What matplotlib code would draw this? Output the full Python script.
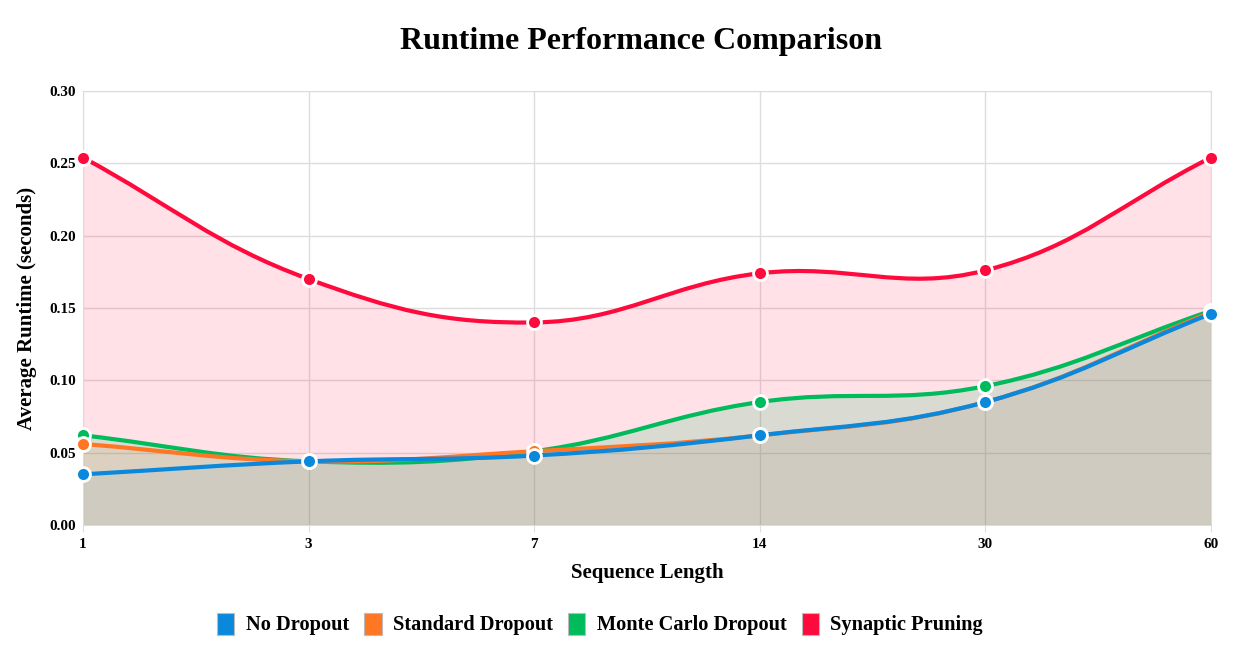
import numpy as np
import matplotlib
matplotlib.use("Agg")
import matplotlib.pyplot as plt
from matplotlib.path import Path
from matplotlib.patches import PathPatch, FancyBboxPatch

plt.rcParams.update({
    "font.family": ["Liberation Serif", "DejaVu Serif"],
    "font.weight": "bold",
})

# ------------------------------------------------------------
# Data
# ------------------------------------------------------------
seq_labels = ["1", "3", "7", "14", "30", "60"]

no_dropout = [0.035, 0.044, 0.048, 0.062, 0.085, 0.146]
standard_dropout = [0.056, 0.044, 0.051, 0.062, 0.085, 0.147]
monte_carlo = [0.062, 0.044, 0.051, 0.085, 0.096, 0.148]
synaptic = [0.254, 0.170, 0.140, 0.174, 0.176, 0.254]

series_names = ["No Dropout", "Standard Dropout", "Monte Carlo Dropout", "Synaptic Pruning"]
series_values = [no_dropout, standard_dropout, monte_carlo, synaptic]
colors = ["#0a88dc", "#ff7722", "#00bb5c", "#ff0a3c"]
fill_alpha = [0.06, 0.10, 0.15, 0.12]

W, H = 1240, 650
fig = plt.figure(figsize=(W / 100, H / 100), dpi=100)
ax = fig.add_axes([83 / W, 1 - 525 / H, (1211 - 83) / W, (525 - 91) / H])

xs = np.arange(len(seq_labels))
ax.set_xlim(0, len(seq_labels) - 1)
ax.set_ylim(0, 0.30)


def spline_path(x, y, tension=0.4):
    """Chart.js style bezier through points, computed in pixel space."""
    pts = ax.transData.transform(np.column_stack([x, y]))
    n = len(pts)
    verts, codes = [pts[0]], [Path.MOVETO]
    cps = []
    for i in range(n):
        prev = pts[max(i - 1, 0)]
        cur = pts[i]
        nxt = pts[min(i + 1, n - 1)]
        d01 = np.hypot(*(cur - prev))
        d12 = np.hypot(*(nxt - cur))
        tot = d01 + d12
        s01 = d01 / tot if tot else 0
        s12 = d12 / tot if tot else 0
        cp1 = cur - tension * s01 * (nxt - prev)
        cp2 = cur + tension * s12 * (nxt - prev)
        cps.append((cp1, cp2))
    for i in range(1, n):
        verts += [cps[i - 1][1], cps[i][0], pts[i]]
        codes += [Path.CURVE4] * 3
    inv = ax.transData.inverted()
    return inv.transform(np.array(verts)), codes


# first dataset ends up on top, so draw in reverse
n_series = len(series_values)
for k in range(n_series - 1, -1, -1):
    vals, col = series_values[k], colors[k]
    z = 1 + 3 * (n_series - k)
    v, c = spline_path(xs, vals)
    fv = np.vstack([v, [[xs[-1], 0], [xs[0], 0], v[0]]])
    fc = c + [Path.LINETO, Path.LINETO, Path.CLOSEPOLY]
    ax.add_patch(PathPatch(Path(fv, fc), facecolor=col, alpha=fill_alpha[k],
                           edgecolor="none", zorder=1))
    ax.add_patch(PathPatch(Path(v, c), facecolor="none", edgecolor=col,
                           linewidth=3, zorder=z, capstyle="round"))
    ax.plot(xs, vals, "o", color=col, markersize=10, markeredgecolor="white",
            markeredgewidth=2, zorder=z + 1, clip_on=False)

# Axes styling
ax.set_xticks(xs)
ax.set_xticklabels(seq_labels)
yt = np.arange(0, 0.31, 0.05)
ax.set_yticks(yt)
ax.set_yticklabels([f"{t:.2f}" for t in yt])
ax.grid(True, color="#dddddd", linewidth=1, zorder=0)
ax.set_axisbelow(True)
for s in ax.spines.values():
    s.set_color("#dddddd")
ax.tick_params(axis="both", colors="#dddddd", labelcolor="black",
               labelsize=11, length=5)
ax.tick_params(axis="x", pad=4)
ax.tick_params(axis="y", length=0, pad=5)

ax.set_xlabel("Sequence Length", fontsize=15, fontweight="bold", labelpad=9)
ax.set_ylabel("Average Runtime (seconds)", fontsize=15, fontweight="bold", labelpad=9)

fig.text(641 / W, 1 - 42 / H, "Runtime Performance Comparison", ha="center",
         va="center", fontsize=23, fontweight="bold")

# Legend
handles = [FancyBboxPatch((0, 0), 1, 1, boxstyle="round,pad=0,rounding_size=0.15",
                          facecolor=c, edgecolor="#bbbbbb", linewidth=0.8) for c in colors]
fig.legend(handles, series_names, loc="center", bbox_to_anchor=(600 / W, 1 - 624 / H),
           ncol=4, frameon=False, handlelength=0.85, handleheight=1.3,
           handletextpad=0.55, columnspacing=0.75,
           prop={"family": ["Liberation Serif"], "weight": "bold", "size": 14.7})

fig.savefig("out.png", dpi=100)
